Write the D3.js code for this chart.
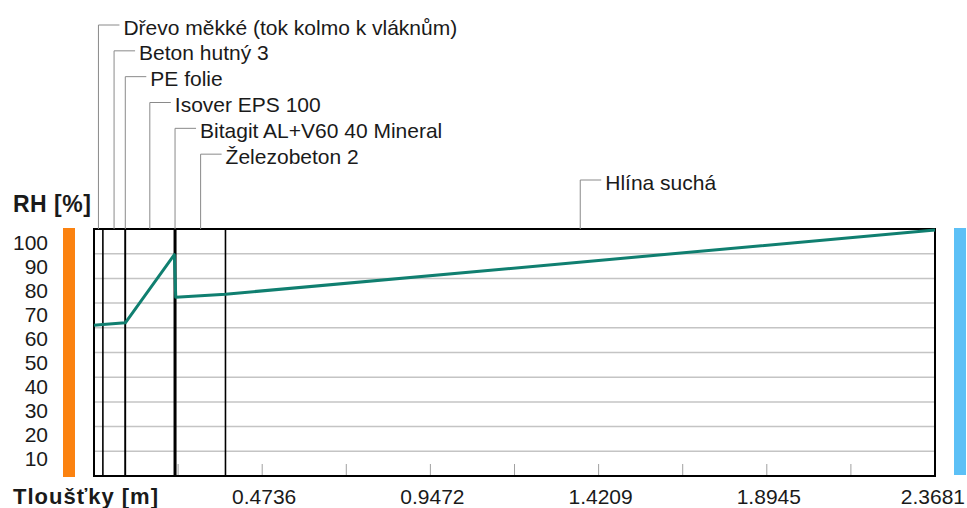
<!DOCTYPE html>
<html>
<head>
<meta charset="utf-8">
<script src="https://cdn.jsdelivr.net/npm/d3@7"></script>
<style>
  html, body { margin: 0; padding: 0; background: #fff; }
  svg { display: block; }
  text { font-family: "Liberation Sans", Arial, sans-serif; fill: #1a1a1a; }
</style>
</head>
<body>
<svg id="chart" width="967" height="508"></svg>
<script>
// Wall assembly: layer names and thicknesses [m], inside to outside
const layerNames = [
  "Dřevo měkké (tok kolmo k vláknům)",
  "Beton hutný 3",
  "PE folie",
  "Isover EPS 100",
  "Bitagit AL+V60 40 Mineral",
  "Železobeton 2",
  "Hlína suchá"
];
const layerThickness = [0.025, 0.063, 0.0002, 0.138, 0.004, 0.14, 1.9979];

// Relative humidity profile at layer interfaces
const rhDepth = [0, 0.025, 0.088, 0.0882, 0.2262, 0.2302, 0.3702, 2.3681];
const rhValues = [61, 61.3, 62, 62, 89.6, 72.4, 73.6, 99.6];

// Axis ticks
const yTickValues = [10, 20, 30, 40, 50, 60, 70, 80, 90, 100];
const yGridValues = [10, 20, 30, 40, 50, 60, 70, 80, 90];
const xTickLabels = ["0.4736", "0.9472", "1.4209", "1.8945", "2.3681"];
const xMinorTicks = [0.2368, 0.4736, 0.7104, 0.9472, 1.1841, 1.4209, 1.6577, 1.8945, 2.1313];

const totalDepth = 2.3681;

const svg = d3.select("#chart");

const x = d3.scaleLinear().domain([0, totalDepth]).range([94, 935]);
const y = d3.scaleLinear().domain([0, 100]).range([476, 229]);
// the tick captions sit on their own slightly tighter spacing
const yLabel = d3.scaleLinear().domain([10, 100]).range([458, 242]);

// side colour strips (interior / exterior)
svg.append("rect").attr("x", 63).attr("y", y(100) - 1).attr("width", 12)
  .attr("height", y(0) - y(100) + 2).attr("fill", "#fb8210");
svg.append("rect").attr("x", 954).attr("y", y(100) - 1).attr("width", 12)
  .attr("height", y(0) - y(100)).attr("fill", "#5cc0f6");

// horizontal grid
svg.append("g").selectAll("line").data(yGridValues).join("line")
  .attr("x1", x(0)).attr("x2", x(totalDepth))
  .attr("y1", d => y(d)).attr("y2", d => y(d))
  .attr("stroke", "#c4c4c4").attr("stroke-width", 1.5);

// minor ticks along the bottom edge
svg.append("g").selectAll("line").data(xMinorTicks).join("line")
  .attr("x1", d => x(d)).attr("x2", d => x(d))
  .attr("y1", y(0) - 12).attr("y2", y(0))
  .attr("stroke", "#a0a0a0").attr("stroke-width", 1);

// layer boundaries
const bounds = d3.cumsum(layerThickness);
const starts = [0, ...bounds.slice(0, -1)];
svg.append("g").selectAll("line").data(starts).join("line")
  .attr("x1", d => x(d)).attr("x2", d => x(d))
  .attr("y1", y(100)).attr("y2", y(0))
  .attr("stroke", "#000").attr("stroke-width", 1.6);

// frame
svg.append("rect")
  .attr("x", x(0)).attr("y", y(100))
  .attr("width", x(totalDepth) - x(0)).attr("height", y(0) - y(100))
  .attr("fill", "none").attr("stroke", "#000").attr("stroke-width", 2);

// RH curve
const line = d3.line().x((d, i) => x(rhDepth[i])).y(d => y(d));
svg.append("path").datum(rhValues)
  .attr("d", line)
  .attr("fill", "none").attr("stroke", "#107f70").attr("stroke-width", 3)
  .attr("stroke-linejoin", "round");

// layer name callouts
const rowY = d3.scaleLinear().domain([0, 6]).range([25, 180]);
const callouts = svg.append("g");
layerNames.forEach((name, i) => {
  const mx = x(starts[i] + layerThickness[i] / 2);
  const ry = rowY(i);
  callouts.append("path")
    .attr("d", `M${mx},${y(100)}V${ry}H${mx + 21}`)
    .attr("fill", "none").attr("stroke", "#8a8a8a").attr("stroke-width", 1);
  callouts.append("text")
    .attr("x", mx + 25).attr("y", ry + 2)
    .attr("dominant-baseline", "central")
    .attr("font-size", 21)
    .text(name);
});

// y tick captions
svg.append("g").selectAll("text").data(yTickValues).join("text")
  .attr("x", 48).attr("y", d => yLabel(d))
  .attr("text-anchor", "end").attr("dominant-baseline", "central")
  .attr("font-size", 21)
  .text(d => d);

// x tick captions (the last one is kept inside the page edge)
svg.append("g").selectAll("text").data(xTickLabels).join("text")
  .attr("x", (d, i) => i === xTickLabels.length - 1 ? 965 : x(+d) + 2)
  .attr("y", 496)
  .attr("text-anchor", (d, i) => i === xTickLabels.length - 1 ? "end" : "middle")
  .attr("dominant-baseline", "central")
  .attr("font-size", 21)
  .text(d => d);

// axis titles
svg.append("text").attr("x", 13).attr("y", 204)
  .attr("dominant-baseline", "central")
  .attr("font-size", 23).attr("font-weight", "bold")
  .attr("letter-spacing", 0.5)
  .text("RH [%]");
svg.append("text").attr("x", 13).attr("y", 496)
  .attr("dominant-baseline", "central")
  .attr("font-size", 22).attr("font-weight", "bold")
  .attr("letter-spacing", 1)
  .text("Tloušťky [m]");
</script>
</body>
</html>
